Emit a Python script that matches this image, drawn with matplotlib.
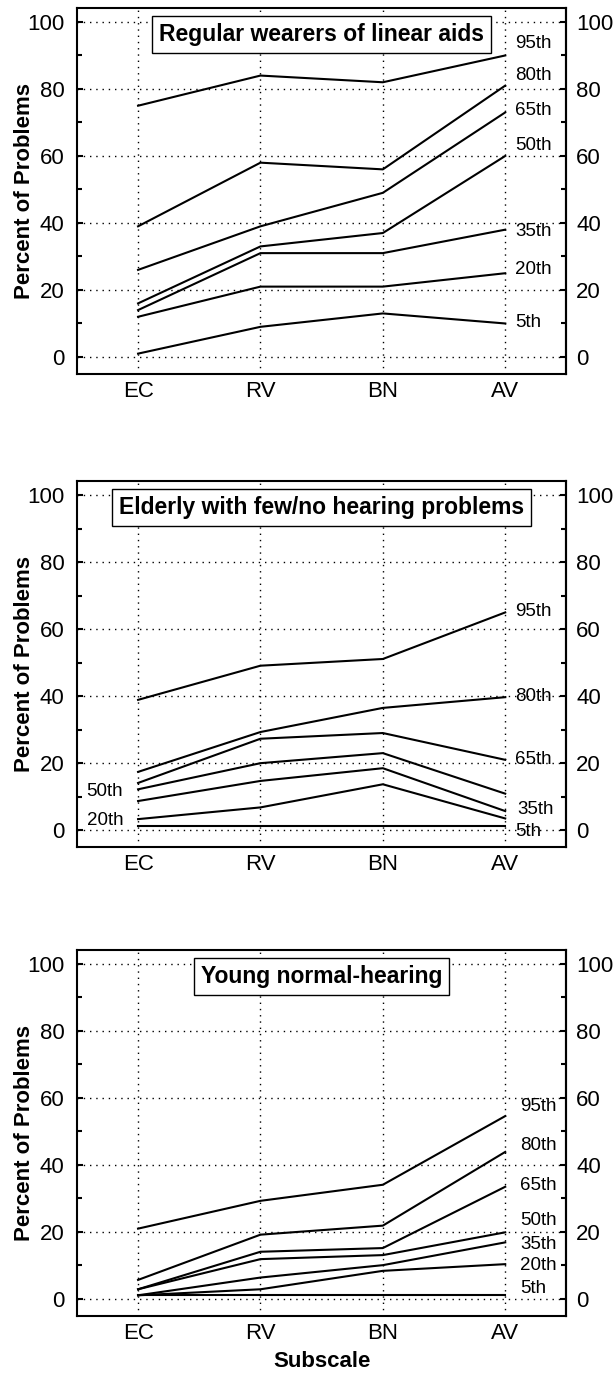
"""
	percentile_profiles.py
"""
import numpy as np
import matplotlib.pyplot as plt
from matplotlib.ticker import MultipleLocator

plt.rcParams['font.family'] = ['Liberation Sans', 'DejaVu Sans']

subscales = ['EC', 'RV', 'BN', 'AV']
percentiles = ['5th', '20th', '35th', '50th', '65th', '80th', '95th']

# Regular wearers of linear aids
linear_5 = [1, 9, 13, 10]
linear_20 = [12, 21, 21, 25]
linear_35 = [14, 31, 31, 38]
linear_50 = [16, 33, 37, 60]
linear_65 = [26, 39, 49, 73]
linear_80 = [39, 58, 56, 81]
linear_95 = [75, 84, 82, 90]

# Elderly with few/no hearing problems
elderly_5 = [1.3, 1.3, 1.3, 1.3]
elderly_20 = [3.3, 6.8, 13.7, 3.5]
elderly_35 = [8.7, 14.7, 18.5, 5.7]
elderly_50 = [12.2, 20, 23, 10.9]
elderly_65 = [14.1, 27.3, 29, 21]
elderly_80 = [17.4, 29.3, 36.5, 39.7]
elderly_95 = [38.9, 49.1, 51.1, 65]

# Young normal-hearing
young_5 = [1.1, 1.1, 1.1, 1.1]
young_20 = [1.1, 2.9, 8.4, 10.4]
young_35 = [1.1, 6.4, 10.1, 16.9]
young_50 = [2.9, 11.9, 13.1, 19.9]
young_65 = [2.9, 14.1, 15.2, 33.5]
young_80 = [5.7, 19.2, 21.9, 43.9]
young_95 = [21, 29.3, 34.1, 54.6]

panels = [
    ("Regular wearers of linear aids",
     [linear_5, linear_20, linear_35, linear_50, linear_65, linear_80, linear_95]),
    ("Elderly with few/no hearing problems",
     [elderly_5, elderly_20, elderly_35, elderly_50, elderly_65, elderly_80, elderly_95]),
    ("Young normal-hearing",
     [young_5, young_20, young_35, young_50, young_65, young_80, young_95]),
]

# where each percentile label sits (x, y) in data units
label_pos = [
    [(3.08, 10.2), (3.08, 26), (3.08, 37.4), (3.08, 63), (3.08, 73.7), (3.08, 84), (3.08, 93.6)],
    [(3.08, -0.5), (-0.42, 2.8), (3.1, 6.2), (-0.42, 11.4), (3.08, 21), (3.08, 40), (3.08, 65.3)],
    [(3.12, 3.2), (3.12, 9.9), (3.12, 16.4), (3.12, 23.4), (3.12, 33.8), (3.12, 45.8), (3.12, 57.6)],
]

fig = plt.figure(figsize=(6.15, 13.74), dpi=100)
bottoms = [0.728, 0.3836, 0.0424]
x = np.arange(len(subscales))

for i, (title, series) in enumerate(panels):
    ax = fig.add_axes([0.125, bottoms[i], 0.796, 0.2665])
    ax.set_xlim(-0.5, 3.5)
    ax.set_ylim(-5, 104.3)

    # dotted grid
    for yv in range(0, 101, 20):
        ax.axhline(yv, color='black', lw=1.0, ls=(0, (1, 3.5)), zorder=1)
    for xv in x:
        ax.axvline(xv, color='black', lw=1.0, ls=(0, (1, 3.5)), zorder=1)

    for vals in series:
        ax.plot(x, vals, color='black', lw=1.5, zorder=3)

    for name, (lx, ly) in zip(percentiles, label_pos[i]):
        ax.text(lx, ly, name, fontsize=13.5, ha='left', va='center', zorder=4)

    ax.text(0.5, 96.3, title, transform=ax.get_yaxis_transform(), ha='center', va='center',
            fontsize=16.5, fontweight='bold', zorder=5,
            bbox=dict(boxstyle='square,pad=0.3', fc='white', ec='black', lw=1.0))

    ax.set_xticks(x)
    ax.set_xticklabels(subscales)
    ax.set_yticks(range(0, 101, 20))
    ax.yaxis.set_minor_locator(MultipleLocator(10))
    ax.tick_params(axis='x', length=0, labelsize=16, pad=5)
    ax.tick_params(axis='y', which='major', direction='in', length=4, width=1.5,
                   labelsize=16, pad=9, right=False)
    ax.tick_params(axis='y', which='minor', direction='in', length=3.5, width=1.5, right=False)

    # right-hand copy of the percent axis
    rax = ax.secondary_yaxis('right')
    rax.set_yticks(range(0, 101, 20))
    rax.yaxis.set_minor_locator(MultipleLocator(10))
    rax.tick_params(axis='y', which='major', direction='in', length=4, width=1.5,
                    labelsize=16, pad=7)
    rax.tick_params(axis='y', which='minor', direction='in', length=3.5, width=1.5)
    rax.spines['right'].set_linewidth(1.5)

    for s in ax.spines.values():
        s.set_linewidth(1.5)

    ax.set_ylabel("Percent of Problems", fontsize=16, fontweight='bold')
    ax.yaxis.set_label_coords(-0.085, 0.5)
    if i == 2:
        ax.set_xlabel("Subscale", fontsize=16, fontweight='bold', labelpad=5)

fig.savefig("out.png", dpi=100)
